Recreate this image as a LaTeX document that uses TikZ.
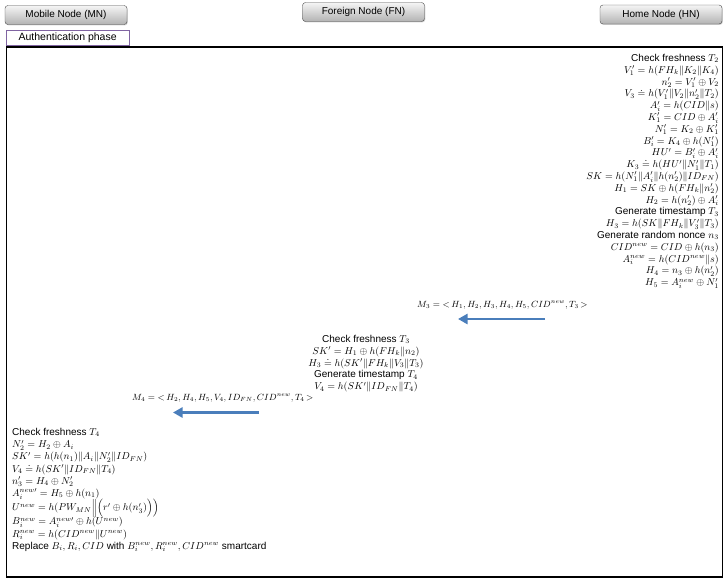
\documentclass[tikz,border=0pt]{standalone}
\usepackage[no-math]{fontspec}
\setmainfont{Liberation Sans}
\usetikzlibrary{arrows.meta,shadows}
\definecolor{arrowblue}{RGB}{74,126,187}
\definecolor{tabpurple}{RGB}{128,100,162}
\newcommand\mycolfont{\fontsize{10}{11.8}\selectfont\lineskiplimit -20pt\relax}
\newcommand\mymnfont{\fontsize{10}{12.2}\selectfont\lineskiplimit -20pt\relax}
\begin{document}
\begin{tikzpicture}[x=1pt,y=-1pt,
  hdr/.style={draw=black!70, rounded corners=3pt, top color=black!4, bottom color=black!30,
    minimum width=122pt, minimum height=19pt, inner sep=0pt,
    font=\fontsize{10}{12}\selectfont,
    drop shadow={shadow xshift=0.8pt, shadow yshift=-0.9pt, opacity=0.35}},
  col/.style={inner sep=0pt, font=\mycolfont},
  msg/.style={inner sep=0pt, anchor=base west, font=\fontsize{9}{11}\selectfont},
  sarrow/.style={draw=arrowblue, line width=2.8pt, -{Triangle[length=9.5pt,width=10pt]}},
]
\useasboundingbox (0,0) rectangle (727,579);
% headers
\node[hdr] (MN) at (66,15) {Mobile Node (MN)};
\node[hdr] (FN) at (363.5,12) {Foreign Node (FN)};
\node[hdr] (HN) at (661,14.5) {Home Node (HN)};
% phase frame and tab
\node[draw=black, line width=1.6pt, minimum width=716pt, minimum height=530pt, inner sep=0pt, anchor=north west] (frame) at (5.8,46.2) {};
\node[draw=tabpurple, fill=white, line width=1.2pt, minimum width=123pt, minimum height=15.5pt, inner sep=0pt, anchor=north west, font=\fontsize{10.5}{12}\selectfont] (tab) at (5.5,29.5) {Authentication phase};
% Home node computations
\node[col, align=right, anchor=north east] (hncalc) at (719,54) {%
Check freshness $T_2$\\
$V_1' = h(FH_k\|K_2\|K_4)$\\
$n_2' = V_1' \oplus V_2$\\
$V_3 \doteq h(V_1'\|V_2\|n_2'\|T_2)$\\
$A_i' = h(CID\|s)$\\
$K_1' = CID \oplus A_i'$\\
$N_1' = K_2 \oplus K_1'$\\
$B_i' = K_4 \oplus h(N_1')$\\
$HU' = B_i' \oplus A_i'$\\
$K_3 \doteq h(HU'\|N_1'\|T_1)$\\
$SK = h(N_1'\|A_i'\|h(n_2')\|ID_{FN})$\\
$H_1 = SK \oplus h(FH_k\|n_2')$\\
$H_2 = h(n_2') \oplus A_i'$\\
Generate timestamp $T_3$\\
$H_3 = h(SK\|FH_k\|V_3'\|T_3)$\\
Generate random nonce $n_3$\\
$CID^{new} = CID \oplus h(n_3)$\\
$A_i^{new} = h(CID^{new}\|s)$\\
$H_4 = n_3 \oplus h(n_2')$\\
$H_5 = A_i^{new} \oplus N_1'$};
% message M3
\node[msg] (m3) at (417,307) {$M_3 = \mathord{<}\,H_1, H_2, H_3, H_4, H_5, CID^{new}, T_3\,\mathord{>}$};
\coordinate (m3s) at (545,319);
\coordinate (m3e) at (458,319);
\draw[sarrow] (m3s) -- (m3e);
% Foreign node computations
\node[col, align=center, anchor=north] (fncalc) at (366,335) {%
Check freshness $T_3$\\
$SK' = H_1 \oplus h(FH_k\|n_2)$\\
$H_3 \doteq h(SK'\|FH_k\|V_3\|T_3)$\\
Generate timestamp $T_4$\\
$V_4 = h(SK'\|ID_{FN}\|T_4)$};
% message M4
\node[msg] (m4) at (132,400.5) {$M_4 = \mathord{<}\,H_2, H_4, H_5, V_4, ID_{FN}, CID^{new}, T_4\,\mathord{>}$};
\coordinate (m4s) at (259,412.5);
\coordinate (m4e) at (173,412.5);
\draw[sarrow] (m4s) -- (m4e);
% Mobile node computations
\node[inner sep=0pt, font=\mymnfont, align=left, anchor=north west] (mncalc) at (12,428) {%
Check freshness $T_4$\\
$N_2' = H_2 \oplus A_i$\\
$SK' = h(h(n_1)\|A_i\|N_2'\|ID_{FN})$\\
$V_4 \doteq h(SK'\|ID_{FN}\|T_4)$\\
$n_3' = H_4 \oplus N_2'$\\
$A_i^{new\prime} = H_5 \oplus h(n_1)$\\[2pt]
$U^{new} = h(PW_{MN}\Big\|\Big(r' \oplus h(n_3')\Big)\Big)$\\[2pt]
$B_i^{new} = A_i^{new\prime} \oplus h(U^{new})$\\
$R_i^{new} = h(CID^{new}\|U^{new})$\\
Replace $B_i, R_i, CID$ with $B_i^{new}, R_i^{new}, CID^{new}$ smartcard};
\end{tikzpicture}
\end{document}
